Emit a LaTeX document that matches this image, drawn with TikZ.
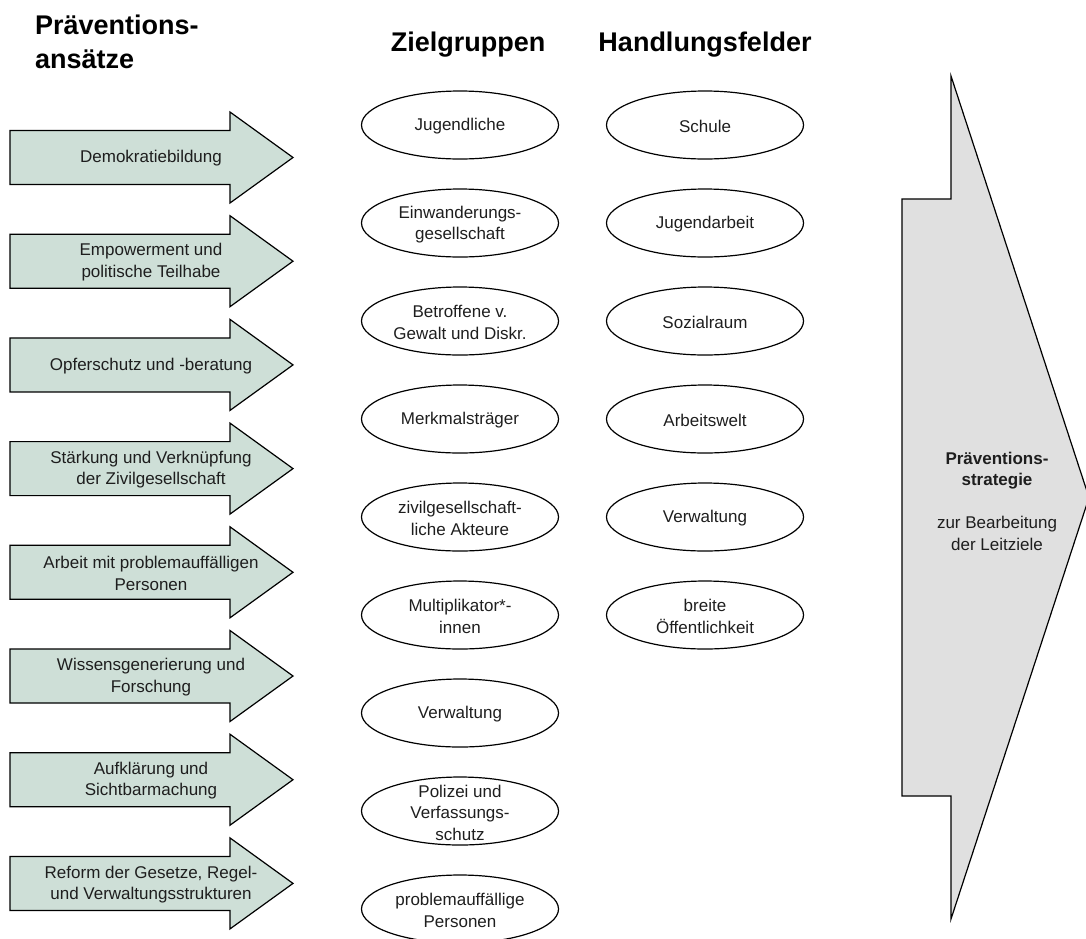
\documentclass[tikz,border=0pt]{standalone}
\usepackage{fontspec}
\setmainfont{Liberation Sans}
\usetikzlibrary{shapes.geometric}
\definecolor{sage}{RGB}{206,223,215}
\definecolor{biggray}{RGB}{224,224,224}
\definecolor{ink}{RGB}{30,30,30}
\tikzset{
  body/.style={font=\fontsize{17}{21.5}\selectfont, align=center, text=ink, inner sep=0pt},
  headtxt/.style={font=\fontsize{27}{34}\selectfont\bfseries, text=black, inner sep=0pt},
  oval/.style={ellipse, draw=black, line width=1.2pt, minimum width=197pt, minimum height=68pt, inner sep=0pt},
  arrowshape/.style={draw=black, line width=1.2pt, fill=sage, line join=miter},
  bigshape/.style={draw=black, line width=1.2pt, fill=biggray, line join=miter},
}
\begin{document}
\begin{tikzpicture}[x=1pt,y=-1pt]
\useasboundingbox (0,0) rectangle (1086,938);

% headings
\node[headtxt, align=left, anchor=north west] (hpa) at (35,15) {Präventions-\\ansätze};
\node[headtxt, anchor=base] (hzg) at (468,51) {Zielgruppen};
\node[headtxt, anchor=base] (hhf) at (705,51) {Handlungsfelder};

% big arrow
\draw[bigshape] (902,199) -- (951,199) -- (951,76) -- (1089,497.5) -- (951,919) -- (951,796) -- (902,796) -- cycle;
\node[body] (strat) at (997,501) {\textbf{Präventions-}\\\textbf{strategie}\\[21.5pt]zur Bearbeitung\\der Leitziele};

% left arrows
\foreach \i/\t in {0/Demokratiebildung,
                   1/{Empowerment und\\politische Teilhabe},
                   2/{Opferschutz und -beratung},
                   3/{Stärkung und Verknüpfung\\der Zivilgesellschaft},
                   4/{Arbeit mit problemauffälligen\\Personen},
                   5/{Wissensgenerierung und\\Forschung},
                   6/{Aufklärung und\\Sichtbarmachung},
                   7/{Reform der Gesetze, Regel-\\und Verwaltungsstrukturen}}{
  \pgfmathsetmacro{\c}{157.5+103.7*\i}
  \draw[arrowshape] (10,\c-27) -- (230,\c-27) -- (230,\c-45.5) -- (293,\c) -- (230,\c+45.5) -- (230,\c+27) -- (10,\c+27) -- cycle;
  \node[body] (pa\i) at (151,\c+1) {\t};
}

% Zielgruppen
\foreach \i/\t in {0/Jugendliche,
                   1/{Einwanderungs-\\gesellschaft},
                   2/{Betroffene v.\\Gewalt und Diskr.},
                   3/Merkmalsträger,
                   4/{zivilgesellschaft-\\liche Akteure},
                   5/{Multiplikator*-\\innen},
                   6/Verwaltung,
                   7/{Polizei und\\Verfassungs-\\schutz},
                   8/{problemauffällige\\Personen}}{
  \pgfmathsetmacro{\c}{125+98*\i}
  \node[oval] (zg\i) at (460,\c) {};
  \node[body] (zgt\i) at ([yshift=-1.5pt]zg\i.center) {\t};
}

% Handlungsfelder
\foreach \i/\t in {0/Schule,
                   1/Jugendarbeit,
                   2/Sozialraum,
                   3/Arbeitswelt,
                   4/Verwaltung,
                   5/{breite\\Öffentlichkeit}}{
  \pgfmathsetmacro{\c}{125+98*\i}
  \node[oval] (hf\i) at (705,\c) {};
  \node[body] (hft\i) at ([yshift=-1.5pt]hf\i.center) {\t};
}
\end{tikzpicture}
\end{document}
